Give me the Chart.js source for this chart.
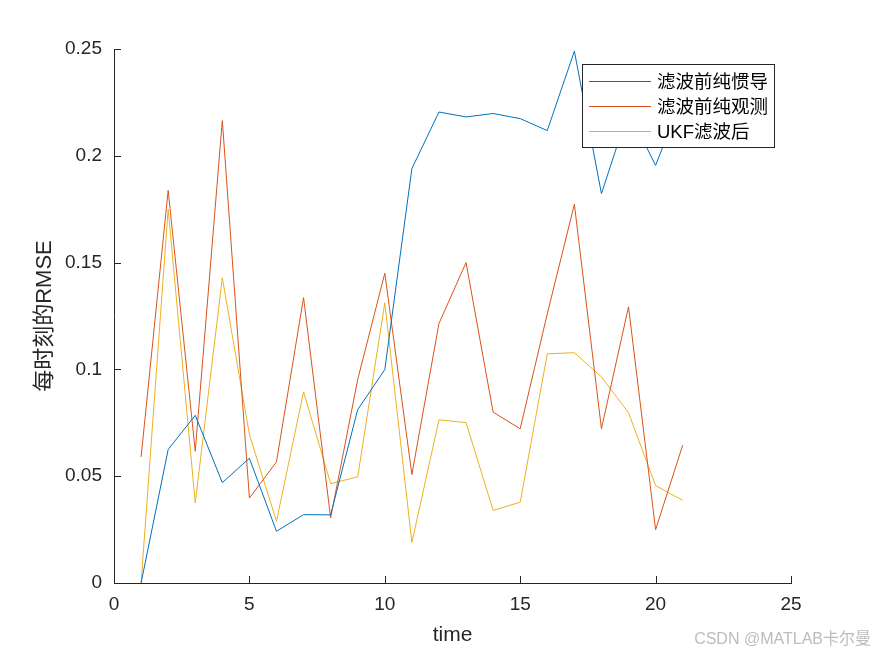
<!DOCTYPE html>
<html>
<head>
<meta charset="utf-8">
<script src="https://cdn.jsdelivr.net/npm/chart.js@4/dist/chart.umd.min.js"></script>
<style>
  html, body { margin: 0; padding: 0; background: #fff; }
  canvas { display: block; }
</style>
</head>
<body>
<canvas id="chart1" width="875" height="656"></canvas>
<script>
// time steps and per-step RMSE
var timeSteps = [1, 2, 3, 4, 5, 6, 7, 8, 9, 10, 11, 12, 13, 14, 15, 16, 17, 18, 19, 20, 21];
var imuOnly = [0, 0.0625, 0.0785, 0.047, 0.0584, 0.0242, 0.032, 0.0319, 0.0812, 0.0999, 0.194,
  0.2205, 0.2182, 0.2198, 0.2174, 0.2118, 0.249, 0.1823, 0.221, 0.1955, 0.228];
var obsOnly = [0.059, 0.1838, 0.0617, 0.2165, 0.0398, 0.0567, 0.1336, 0.0305, 0.0953, 0.145, 0.0508,
  0.1215, 0.15, 0.080, 0.0722, 0.126, 0.1773, 0.0722, 0.1293, 0.025, 0.0645];
var ukfOut = [0, 0.175, 0.0375, 0.1429, 0.0695, 0.0289, 0.0895, 0.0465, 0.0497, 0.1312, 0.019,
  0.0764, 0.0751, 0.034, 0.0378, 0.1073, 0.1078, 0.0965, 0.0797, 0.0456, 0.0387];
var seriesNames = ['滤波前纯惯导', '滤波前纯观测', 'UKF滤波后'];
var xTicks = [0, 5, 10, 15, 20, 25];
var yTicks = [0, 0.05, 0.1, 0.15, 0.2, 0.25];

var FONT = "'Liberation Sans', Arial, 'Noto Sans CJK SC', sans-serif";
var AXIS = '#262626';

function pts(ys) {
  return timeSteps.map(function (t, i) { return { x: t, y: ys[i] }; });
}

// MATLAB style inward ticks, legend box and watermark
var extras = {
  id: 'extras',
  afterDraw: function (chart) {
    var ctx = chart.ctx, a = chart.chartArea;
    var sx = chart.scales.x, sy = chart.scales.y;
    ctx.save();
    ctx.strokeStyle = AXIS;
    ctx.lineWidth = 1;
    ctx.beginPath();
    xTicks.forEach(function (v) {
      var px = Math.round(sx.getPixelForValue(v)) + 0.5;
      ctx.moveTo(px, a.bottom);
      ctx.lineTo(px, a.bottom - 7);
    });
    yTicks.forEach(function (v) {
      var py = Math.round(sy.getPixelForValue(v)) + 0.5;
      ctx.moveTo(a.left, py);
      ctx.lineTo(a.left + 7, py);
    });
    ctx.stroke();

    // legend
    var bx = 582.5, by = 64.5, bw = 192, bh = 83;
    ctx.fillStyle = '#fff';
    ctx.fillRect(bx, by, bw, bh);
    ctx.strokeStyle = AXIS;
    ctx.strokeRect(bx, by, bw, bh);
    ctx.font = '18.5px ' + FONT;
    ctx.textBaseline = 'middle';
    ctx.textAlign = 'left';
    chart.data.datasets.forEach(function (ds, i) {
      var ry = 81.5 + i * 25;
      ctx.strokeStyle = ds.borderColor;
      ctx.beginPath();
      ctx.moveTo(589, ry);
      ctx.lineTo(651, ry);
      ctx.stroke();
      ctx.fillStyle = '#000';
      ctx.fillText(ds.label, 657, ry + 1);
    });

    // watermark
    ctx.font = '16px ' + FONT;
    ctx.fillStyle = 'rgba(160,160,160,0.7)';
    ctx.textAlign = 'right';
    ctx.fillText('CSDN @MATLAB卡尔曼', 871, 640);
    ctx.restore();
  }
};

var ctx = document.getElementById('chart1').getContext('2d');
var myChart = new Chart(ctx, {
  type: 'line',
  data: {
    datasets: [{
      label: seriesNames[0],
      data: pts(imuOnly),
      borderColor: '#0072BD'
    }, {
      label: seriesNames[1],
      data: pts(obsOnly),
      borderColor: '#D95319'
    }, {
      label: seriesNames[2],
      data: pts(ukfOut),
      borderColor: '#EDB120'
    }]
  },
  options: {
    responsive: false,
    animation: false,
    devicePixelRatio: 1,
    layout: { padding: { top: 49, right: 84, bottom: 0, left: 0 } },
    elements: {
      line: { borderWidth: 1, tension: 0, fill: false },
      point: { radius: 0, hoverRadius: 0 }
    },
    plugins: {
      legend: { display: false },
      tooltip: { enabled: false }
    },
    scales: {
      x: {
        type: 'linear',
        min: 0,
        max: 25,
        afterFit: function (s) { s.height = 73; },
        afterBuildTicks: function (s) { s.ticks = xTicks.map(function (v) { return { value: v }; }); },
        grid: { display: false, drawTicks: false },
        border: { display: true, color: AXIS, width: 1 },
        ticks: { color: AXIS, padding: 10, maxRotation: 0, font: { family: FONT, size: 19 } },
        title: {
          display: true, text: 'time', color: AXIS,
          font: { family: FONT, size: 21 }, padding: { top: 0, bottom: 8 }
        }
      },
      y: {
        min: 0,
        max: 0.25,
        afterFit: function (s) { s.width = 114; },
        afterBuildTicks: function (s) { s.ticks = yTicks.map(function (v) { return { value: v }; }); },
        grid: { display: false, drawTicks: false },
        border: { display: true, color: AXIS, width: 1 },
        ticks: {
          color: AXIS, padding: 12, font: { family: FONT, size: 19 },
          callback: function (v) { return String(Math.round(v * 100) / 100); }
        },
        title: {
          display: true, text: '每时刻的RMSE', color: AXIS,
          font: { family: FONT, size: 22 }, padding: { top: 32, bottom: 0 }
        }
      }
    }
  },
  plugins: [extras]
});
</script>
</body>
</html>
